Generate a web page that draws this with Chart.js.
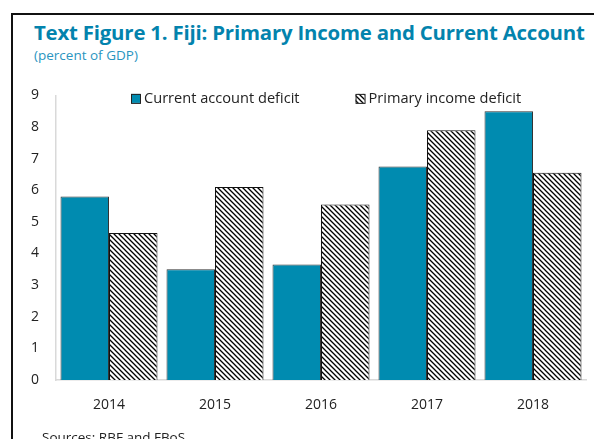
<!DOCTYPE html>
<html>
<head>
<meta charset="utf-8">
<script src="https://cdn.jsdelivr.net/npm/chart.js@4.4.1/dist/chart.umd.min.js"></script>
<style>
    html, body { margin: 0; padding: 0; background: #fff; overflow: hidden; }
    body { width: 594px; height: 439px; position: relative; font-family: "Open Sans", sans-serif; }
    #frame { position: absolute; left: 11px; top: 13px; width: 600px; height: 450px;
             border-left: 2px solid #111; border-top: 2px solid #111; }
    #title { position: absolute; left: 34px; top: 18px; font-size: 20.4px; font-weight: bold;
             color: #0383ad; white-space: nowrap; letter-spacing: -0.2px; }
    #subtitle { position: absolute; left: 34px; top: 46px; font-size: 13.5px; color: #2a95bf; }
    #sources { position: absolute; left: 42px; top: 428px; font-size: 13.5px; color: #222; white-space: nowrap; }
    #wrap { position: absolute; left: 0; top: 70px; width: 594px; height: 369px; }
</style>
</head>
<body>
<div id="frame"></div>
<div id="title">Text Figure 1. Fiji: Primary Income and Current Account</div>
<div id="subtitle">(percent of GDP)</div>
<div id="wrap"><canvas id="chart"></canvas></div>
<div id="sources">Sources: RBF and FBoS.</div>
<script>
    'use strict';

    // Chart data
    var years = ['2014', '2015', '2016', '2017', '2018'];
    var currentAccountDeficit = [5.8, 3.5, 3.65, 6.75, 8.5];
    var primaryIncomeDeficit = [4.65, 6.1, 5.55, 7.9, 6.55];
    var yTicks = [0, 1, 2, 3, 4, 5, 6, 7, 8, 9];

    // Diagonal hatch used for the primary income bars
    function makeHatch() {
        var size = 5;
        var c = document.createElement('canvas');
        c.width = size;
        c.height = size;
        var ctx = c.getContext('2d');
        ctx.fillStyle = '#fff';
        ctx.fillRect(0, 0, size, size);
        ctx.strokeStyle = '#000';
        ctx.lineWidth = 1.3;
        ctx.beginPath();
        ctx.moveTo(-1, -1);
        ctx.lineTo(size + 1, size + 1);
        ctx.moveTo(-1, size - 1);
        ctx.lineTo(1, size + 1);
        ctx.moveTo(size - 1, -1);
        ctx.lineTo(size + 1, 1);
        ctx.stroke();
        return ctx.createPattern(c, 'repeat');
    }

    var font = { family: '"Open Sans", sans-serif', size: 14 };

    // Legend drawn inside the plot, across the top
    var insideLegend = {
        id: 'insideLegend',
        afterDraw: function(chart) {
            var ctx = chart.ctx;
            var area = chart.chartArea;
            var x = area.left + 75;
            var y = area.top + 3;
            ctx.save();
            ctx.font = '14.6px ' + font.family;
            ctx.textBaseline = 'middle';
            chart.data.datasets.forEach(function(ds) {
                ctx.fillStyle = ds.backgroundColor;
                ctx.fillRect(x, y - 4.5, 9, 9);
                ctx.strokeStyle = '#222';
                ctx.lineWidth = 1;
                ctx.strokeRect(x + 0.5, y - 4, 9, 9);
                ctx.fillStyle = '#222';
                ctx.fillText(ds.label, x + 13, y);
                x += 13 + ctx.measureText(ds.label).width + 56;
            });
            ctx.restore();
        }
    };

    new Chart(document.getElementById('chart'), {
        type: 'bar',
        data: {
            labels: years,
            datasets: [{
                label: 'Current account deficit',
                data: currentAccountDeficit,
                backgroundColor: '#008bb0',
                borderColor: '#333',
                borderWidth: 1
            }, {
                label: 'Primary income deficit',
                data: primaryIncomeDeficit,
                backgroundColor: makeHatch(),
                borderColor: '#111',
                borderWidth: 1
            }]
        },
        plugins: [insideLegend],
        options: {
            responsive: true,
            maintainAspectRatio: false,
            animation: false,
            datasets: { bar: { categoryPercentage: 0.915, barPercentage: 1.0 } },
            layout: { padding: { top: 14, right: 8, left: 0, bottom: 0 } },
            plugins: {
                tooltip: { enabled: false },
                legend: { display: false }
            },
            scales: {
                x: {
                    grid: { display: false, drawTicks: false },
                    border: { color: '#d9d9d9', width: 1.5 },
                    ticks: { font: font, color: '#222', padding: 17 },
                    afterFit: function(axis) { axis.height = 59; }
                },
                y: {
                    min: 0,
                    max: 9,
                    afterBuildTicks: function(axis) {
                        axis.ticks = yTicks.map(function(v) { return { value: v }; });
                    },
                    grid: { display: false, drawTicks: false },
                    border: { color: '#d9d9d9', width: 1.5 },
                    ticks: { font: font, color: '#222', padding: 17 },
                    afterFit: function(axis) { axis.width = 56; }
                }
            }
        }
    });
</script>
</body>
</html>
